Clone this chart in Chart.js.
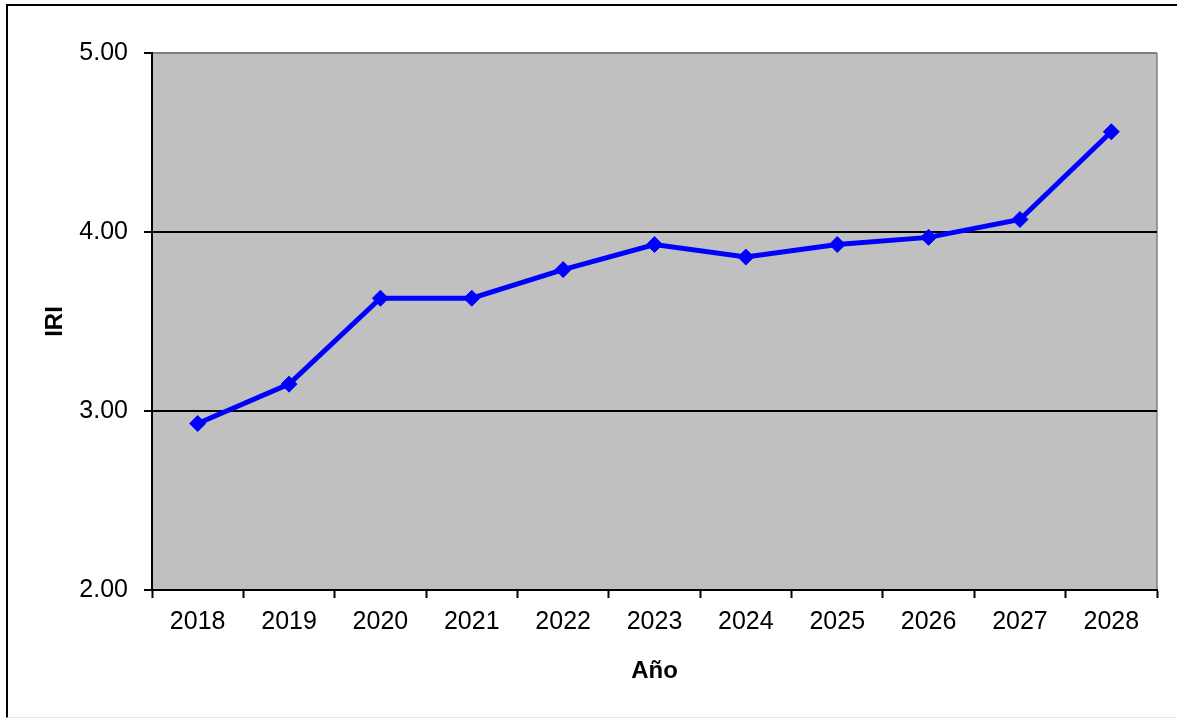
<!DOCTYPE html>
<html>
<head>
<meta charset="utf-8">
<script src="https://cdn.jsdelivr.net/npm/chart.js@4/dist/chart.umd.min.js"></script>
<style>
  html, body { margin: 0; padding: 0; background: #fff; }
  #wrap { position: relative; width: 1177px; height: 719px; overflow: hidden; }
  #frame {
    position: absolute; left: 6px; top: 4px; width: 1200px; height: 711px;
    border-left: 2px solid #000; border-top: 2px solid #000;
    border-bottom: 1px solid #e6e6e6;
  }
  #chart { position: absolute; left: 0; top: 0; }
</style>
</head>
<body>
<div id="wrap">
  <div id="frame"></div>
  <canvas id="chart" width="1177" height="719"></canvas>
</div>
<script>
// IRI per year
const years = ['2018', '2019', '2020', '2021', '2022', '2023', '2024', '2025', '2026', '2027', '2028'];
const iriValues = [2.93, 3.15, 3.63, 3.63, 3.79, 3.93, 3.86, 3.93, 3.97, 4.07, 4.56];
const yTicks = [2, 3, 4, 5];

// grey plot background + grey right border
const plotArea = {
    id: 'plotArea',
    beforeDraw: function(chart) {
        const a = chart.chartArea;
        const ctx = chart.ctx;
        ctx.save();
        ctx.fillStyle = '#c0c0c0';
        ctx.fillRect(a.left, a.top, a.right - a.left, a.bottom - a.top);
        ctx.strokeStyle = '#808080';
        ctx.lineWidth = 1.5;
        ctx.beginPath();
        ctx.moveTo(a.right, a.top);
        ctx.lineTo(a.right, a.bottom);
        ctx.stroke();
        ctx.restore();
    }
};

document.addEventListener('DOMContentLoaded', function() {
    const ctx = document.getElementById('chart');
    const font = 'Liberation Sans, Arial, sans-serif';

    new Chart(ctx, {
        type: 'line',
        data: {
            labels: years,
            datasets: [{
                label: 'IRI',
                data: iriValues,
                borderColor: '#0000ff',
                backgroundColor: '#0000ff',
                borderWidth: 5,
                pointStyle: 'rectRot',
                pointRadius: 8,
                pointBorderWidth: 1,
                tension: 0,
                fill: false
            }]
        },
        options: {
            responsive: false,
            animation: false,
            layout: { padding: { left: 0, top: 53, right: 20, bottom: 0 } },
            plugins: {
                legend: { display: false },
                tooltip: { enabled: false }
            },
            scales: {
                x: {
                    offset: true,
                    afterFit: function(scale) { scale.height = 129; },
                    grid: {
                        offset: true,
                        drawOnChartArea: false,
                        tickLength: 8,
                        tickColor: '#000',
                        tickWidth: 2
                    },
                    border: { color: '#000', width: 2 },
                    ticks: {
                        color: '#000',
                        padding: 9,
                        font: { family: font, size: 25 },
                        maxRotation: 0
                    },
                    title: {
                        display: true,
                        text: 'Año',
                        color: '#000',
                        font: { family: font, size: 24, weight: 'bold' },
                        padding: { top: 0, bottom: 33 }
                    }
                },
                y: {
                    min: 2,
                    max: 5,
                    afterFit: function(scale) { scale.width = 152; },
                    afterBuildTicks: function(scale) {
                        scale.ticks = yTicks.map(function(v) { return { value: v }; });
                    },
                    grid: {
                        color: function(c) {
                            if (c.tick && c.tick.value === 5) return '#808080';
                            return '#000';
                        },
                        lineWidth: 2,
                        tickLength: 8,
                        tickColor: '#000',
                        tickWidth: 2
                    },
                    border: { color: '#000', width: 2 },
                    ticks: {
                        color: '#000',
                        padding: 16,
                        font: { family: font, size: 25 },
                        callback: function(value) {
                            return Number(value).toFixed(2);
                        }
                    },
                    title: {
                        display: true,
                        text: 'IRI',
                        color: '#000',
                        font: { family: font, size: 24, weight: 'bold' },
                        padding: { top: 41, bottom: 0 }
                    }
                }
            }
        },
        plugins: [plotArea]
    });
});
</script>
</body>
</html>
